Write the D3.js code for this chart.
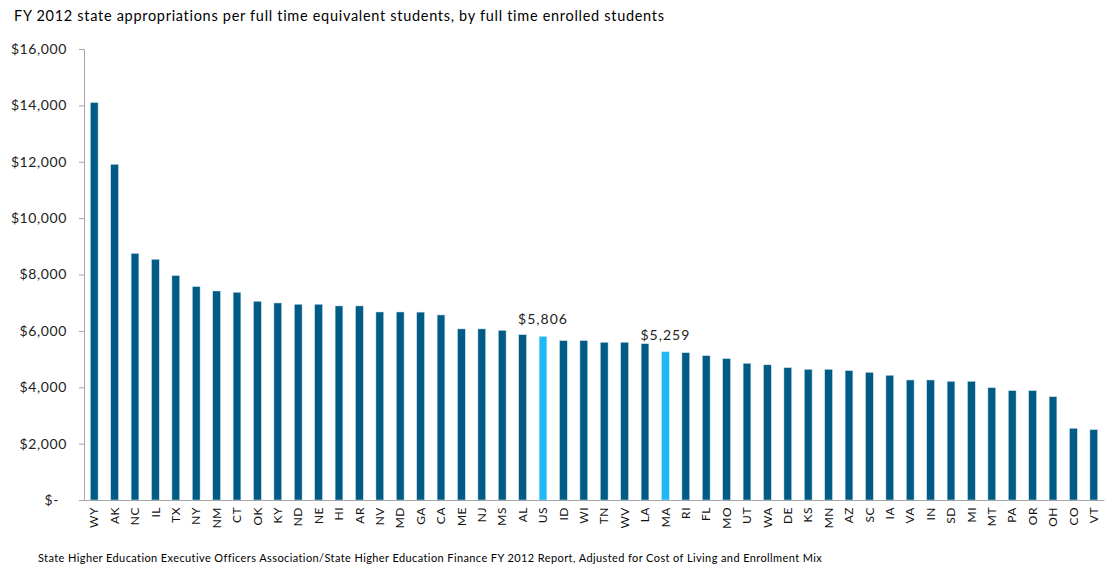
<!DOCTYPE html>
<html><head><meta charset="utf-8">
<script src="https://cdn.jsdelivr.net/npm/d3@7"></script>
<style>body{margin:0;background:#fff;} text{font-family:Lato,"Open Sans",sans-serif;}</style>
</head><body><svg id="c" width="1105" height="569"></svg>
<script>
const states = ["WY","AK","NC","IL","TX","NY","NM","CT","OK","KY","ND","NE","HI","AR","NV","MD","GA","CA","ME","NJ","MS","AL","US","ID","WI","TN","WV","LA","MA","RI","FL","MO","UT","WA","DE","KS","MN","AZ","SC","IA","VA","IN","SD","MI","MT","PA","OR","OH","CO","VT"];
const values = [14100,11910,8750,8540,7960,7570,7415,7370,7050,6990,6945,6945,6885,6885,6670,6670,6665,6565,6070,6070,6020,5865,5806,5655,5655,5595,5595,5545,5259,5225,5120,5015,4850,4795,4695,4636,4636,4590,4530,4425,4258,4258,4211,4211,3985,3880,3880,3665,2545,2495];
const highlighted = ["US","MA"];
const yTicks = [0,2000,4000,6000,8000,10000,12000,14000,16000];
const title = "FY 2012 state appropriations per full time equivalent students, by full time enrolled students";
const source = "State Higher Education Executive Officers Association/State Higher Education Finance FY 2012 Report, Adjusted for Cost of Living and Enrollment Mix";

const svg = d3.select("#c");
const x = d3.scaleBand().domain(states).range([84,1104]).paddingInner(0.62).paddingOuter(0.31);
const y = d3.scaleLinear().domain([0,16000]).range([500,49]);

svg.append("text").attr("x",14).attr("y",21).attr("font-size",14.5).attr("letter-spacing",0.7).attr("fill","#000").text(title);

const fmt = v => v===0 ? "$-" : "$" + d3.format(",")(v);
const ya = svg.append("g").attr("transform","translate(84,0)")
  .call(d3.axisLeft(y).tickValues(yTicks).tickFormat(fmt).tickSize(5).tickPadding(12));
ya.select(".domain").attr("stroke","#a6a6a6");
ya.selectAll(".tick line").attr("stroke","#a6a6a6");
ya.selectAll(".tick text").attr("font-size",14).attr("letter-spacing",0.6).attr("fill","#222")
  .style("font-family","Lato, sans-serif")
  .attr("dx",d=>d===0?-8:0);

svg.append("g").selectAll("rect").data(states).join("rect")
  .attr("x",d=>x(d)).attr("width",x.bandwidth())
  .attr("y",(d,i)=>y(values[i])).attr("height",(d,i)=>y(0)-y(values[i]))
  .attr("fill",d=>highlighted.includes(d)?"#1fb9f7":"#005b86")
  .attr("stroke","#cfe3ee").attr("stroke-width",0.5);

const xa = svg.append("g").attr("transform","translate(0,500)")
  .call(d3.axisBottom(x).tickSize(0).tickPadding(0));
xa.select(".domain").attr("stroke","#a6a6a6");
xa.selectAll(".tick text").attr("font-size",12).attr("letter-spacing",0.5).attr("fill","#111")
  .attr("transform","rotate(-90)").attr("text-anchor","end").attr("dx","-7").attr("dy","0.35em").attr("y",0)
  .style("font-family","Lato, sans-serif");

highlighted.forEach(s=>{
  const i = states.indexOf(s);
  svg.append("text").attr("x",x(s)+x.bandwidth()/2).attr("y",y(values[i])-12)
    .attr("text-anchor","middle").attr("font-size",14).attr("letter-spacing",1).attr("fill","#222").text(fmt(values[i]));
});

svg.append("text").attr("x",38).attr("y",562).attr("font-size",11).attr("letter-spacing",0.4).attr("fill","#000").text(source);
</script></body></html>
